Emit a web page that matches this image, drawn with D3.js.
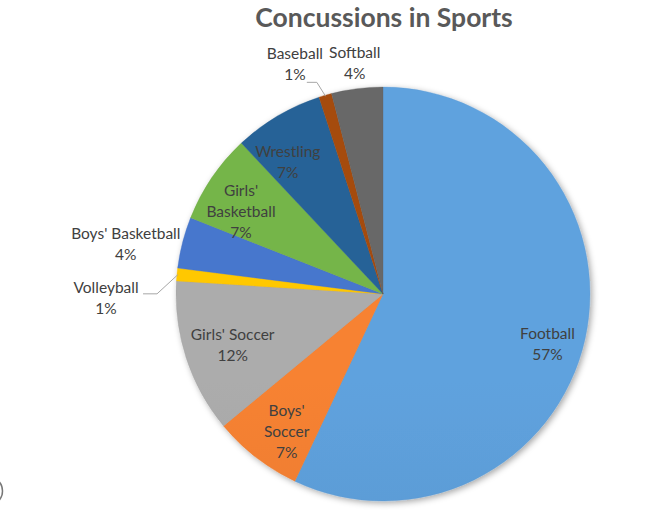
<!DOCTYPE html>
<html>
<head>
<meta charset="utf-8">
<script src="https://cdn.jsdelivr.net/npm/d3@7"></script>
<style>
  body { margin: 0; background: #fff; }
  svg { display: block; font-family: Lato, "Open Sans", sans-serif; }
</style>
</head>
<body>
<div id="chart"></div>
<script>
const sports = ["Football", "Boys' Soccer", "Girls' Soccer", "Volleyball", "Boys' Basketball",
                "Girls' Basketball", "Wrestling", "Baseball", "Softball"];
const shares = [57, 7, 12, 1, 4, 7, 7, 1, 4];
const sliceColors = ["#5b9bd5", "#ed7d31", "#a5a5a5", "#ffc000", "#4472c4",
                     "#70ad47", "#255e91", "#9e480e", "#636363"];
// label text lines (Excel wraps some labels)
const labelLines = [["Football"], ["Boys'", "Soccer"], ["Girls' Soccer"], ["Volleyball"],
                    ["Boys' Basketball"], ["Girls'", "Basketball"], ["Wrestling"], ["Baseball"], ["Softball"]];

const width = 668, height = 530;
const cx = 383, cy = 294, radius = 207;

// label placement: angle (deg, clockwise from top) and distance from centre
const labelPlace = [[107, 172], [215, 168], [251, 159], [269, 277], [281, 262],
                    [300, 164], [324, 162], [339, 246], [353, 232]];

const svg = d3.select("#chart").append("svg")
    .attr("width", width)
    .attr("height", height);

const defs = svg.append("defs");

const shadow = defs.append("filter")
    .attr("id", "shadow")
    .attr("x", "-10%").attr("y", "-10%")
    .attr("width", "120%").attr("height", "120%");
shadow.append("feDropShadow")
    .attr("dx", 2).attr("dy", 2)
    .attr("stdDeviation", 3)
    .attr("flood-color", "#000")
    .attr("flood-opacity", 0.35);

// vertical gradient per slice, lighter at the top
sliceColors.forEach((c, i) => {
    const g = defs.append("linearGradient")
        .attr("id", "grad" + i)
        .attr("gradientUnits", "userSpaceOnUse")
        .attr("x1", 0).attr("x2", 0)
        .attr("y1", cy - radius).attr("y2", cy + radius);
    g.append("stop").attr("offset", "0%").attr("stop-color", d3.color(c).brighter(0.12));
    g.append("stop").attr("offset", "100%").attr("stop-color", d3.color(c).darker(0.2));
});

const data = sports.map((s, i) => ({ sport: s, value: shares[i], i }));

const pie = d3.pie()
    .value(d => d.value)
    .sort(null);

const arc = d3.arc()
    .innerRadius(0)
    .outerRadius(radius);

const arcs = pie(data);

const pieGroup = svg.append("g")
    .attr("transform", `translate(${cx},${cy})`);

pieGroup.append("g")
    .attr("filter", "url(#shadow)")
    .selectAll("path")
    .data(arcs)
    .enter()
    .append("path")
    .attr("d", arc)
    .attr("fill", d => `url(#grad${d.data.i})`)
    .attr("stroke", d => d3.color(sliceColors[d.data.i]).darker(0.1))
    .attr("stroke-width", 0.3);

// Title
svg.append("text")
    .attr("x", 384)
    .attr("y", 27)
    .attr("text-anchor", "middle")
    .attr("font-size", 26.5)
    .attr("font-weight", "bold")
    .attr("fill", "#595959")
    .text("Concussions in Sports");

// Labels
const lineH = 21;
const polar = (deg, r) => [Math.sin(deg * Math.PI / 180) * r, -Math.cos(deg * Math.PI / 180) * r];

const labels = pieGroup.append("g")
    .selectAll("text")
    .data(arcs)
    .enter()
    .append("text")
    .attr("text-anchor", "middle")
    .attr("font-size", 15.5)
    .attr("fill", "#404040")
    .attr("transform", d => {
        const [x, y] = polar(labelPlace[d.data.i][0], labelPlace[d.data.i][1]);
        return `translate(${x},${y})`;
    });

labels.each(function(d) {
    const lines = labelLines[d.data.i].concat([d3.format(".0f")(d.data.value) + "%"]);
    const t = d3.select(this);
    const top = -(lines.length - 1) * lineH / 2 + 5;
    lines.forEach((l, k) => {
        t.append("tspan")
            .attr("x", 0)
            .attr("y", top + k * lineH)
            .text(l);
    });
});

// Leader lines for the small outside labels
const leader = d3.line();
function leaderFor(idx, start, elbow) {
    const a = arcs[idx];
    const mid = (a.startAngle + a.endAngle) / 2;
    const edge = [Math.sin(mid) * (radius - 1), -Math.cos(mid) * (radius - 1)];
    pieGroup.append("path")
        .attr("d", leader([start, elbow, edge]))
        .attr("fill", "none")
        .attr("stroke", "#a6a6a6")
        .attr("stroke-width", 1);
}
// Volleyball: right of the text, horizontal then to slice edge
const vb = polar(labelPlace[3][0], labelPlace[3][1]);
leaderFor(3, [vb[0] + 37, vb[1] - 5], [vb[0] + 51, vb[1] - 5]);
// Baseball: right of "1%", horizontal then down
const bb = polar(labelPlace[7][0], labelPlace[7][1]);
leaderFor(7, [bb[0] + 12, bb[1] + 18], [bb[0] + 22, bb[1] + 18]);

// small cropped ring at the left edge of the original image
svg.append("circle")
    .attr("cx", -12)
    .attr("cy", 491)
    .attr("r", 14.5)
    .attr("fill", "none")
    .attr("stroke", "#777")
    .attr("stroke-width", 1.5);
</script>
</body>
</html>
